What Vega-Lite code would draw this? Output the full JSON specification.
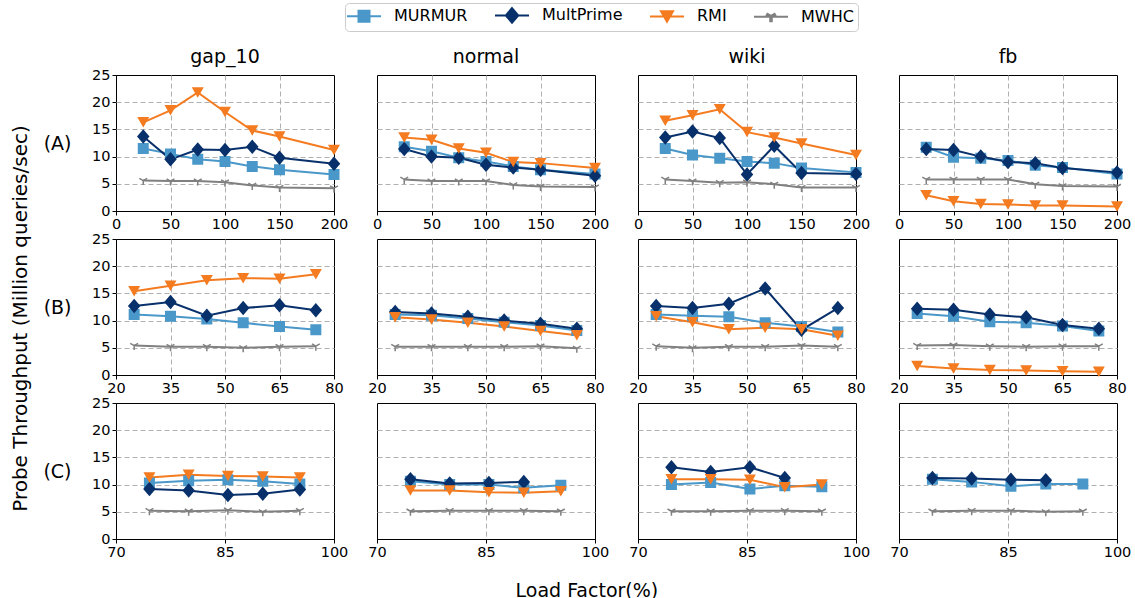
{
  "$schema": "https://vega.github.io/schema/vega-lite/v6.json",
  "padding": {"left": 10, "top": 2, "right": 5, "bottom": 5},
  "title": {"text": "Probe Throughput (Million queries/sec)", "orient": "left", "anchor": "middle", "fontSize": 20, "fontWeight": "normal", "font": "DejaVu Sans", "offset": 12, "dx": -17},
  "datasets": {
    "d": [
      {"r":"A","c":"gap_10","m":"MURMUR","x":25,"y":11.5},{"r":"A","c":"gap_10","m":"MURMUR","x":50,"y":10.5},{"r":"A","c":"gap_10","m":"MURMUR","x":75,"y":9.5},{"r":"A","c":"gap_10","m":"MURMUR","x":100,"y":9.1},{"r":"A","c":"gap_10","m":"MURMUR","x":125,"y":8.2},{"r":"A","c":"gap_10","m":"MURMUR","x":150,"y":7.6},{"r":"A","c":"gap_10","m":"MURMUR","x":200,"y":6.7},
      {"r":"A","c":"gap_10","m":"MultPrime","x":25,"y":13.7},{"r":"A","c":"gap_10","m":"MultPrime","x":50,"y":9.5},{"r":"A","c":"gap_10","m":"MultPrime","x":75,"y":11.3},{"r":"A","c":"gap_10","m":"MultPrime","x":100,"y":11.2},{"r":"A","c":"gap_10","m":"MultPrime","x":125,"y":11.8},{"r":"A","c":"gap_10","m":"MultPrime","x":150,"y":9.8},{"r":"A","c":"gap_10","m":"MultPrime","x":200,"y":8.7},
      {"r":"A","c":"gap_10","m":"RMI","x":25,"y":16.3},{"r":"A","c":"gap_10","m":"RMI","x":50,"y":18.5},{"r":"A","c":"gap_10","m":"RMI","x":75,"y":21.8},{"r":"A","c":"gap_10","m":"RMI","x":100,"y":18.2},{"r":"A","c":"gap_10","m":"RMI","x":125,"y":14.8},{"r":"A","c":"gap_10","m":"RMI","x":150,"y":13.7},{"r":"A","c":"gap_10","m":"RMI","x":200,"y":11.2},
      {"r":"A","c":"gap_10","m":"MWHC","x":25,"y":5.6},{"r":"A","c":"gap_10","m":"MWHC","x":50,"y":5.5},{"r":"A","c":"gap_10","m":"MWHC","x":75,"y":5.5},{"r":"A","c":"gap_10","m":"MWHC","x":100,"y":5.3},{"r":"A","c":"gap_10","m":"MWHC","x":125,"y":4.7},{"r":"A","c":"gap_10","m":"MWHC","x":150,"y":4.3},{"r":"A","c":"gap_10","m":"MWHC","x":200,"y":4.2},

      {"r":"A","c":"normal","m":"MURMUR","x":25,"y":11.8},{"r":"A","c":"normal","m":"MURMUR","x":50,"y":11.0},{"r":"A","c":"normal","m":"MURMUR","x":75,"y":9.8},{"r":"A","c":"normal","m":"MURMUR","x":100,"y":9.1},{"r":"A","c":"normal","m":"MURMUR","x":125,"y":8.2},{"r":"A","c":"normal","m":"MURMUR","x":150,"y":7.6},{"r":"A","c":"normal","m":"MURMUR","x":200,"y":6.8},
      {"r":"A","c":"normal","m":"MultPrime","x":25,"y":11.4},{"r":"A","c":"normal","m":"MultPrime","x":50,"y":10.0},{"r":"A","c":"normal","m":"MultPrime","x":75,"y":9.8},{"r":"A","c":"normal","m":"MultPrime","x":100,"y":8.5},{"r":"A","c":"normal","m":"MultPrime","x":125,"y":8.0},{"r":"A","c":"normal","m":"MultPrime","x":150,"y":7.6},{"r":"A","c":"normal","m":"MultPrime","x":200,"y":6.5},
      {"r":"A","c":"normal","m":"RMI","x":25,"y":13.5},{"r":"A","c":"normal","m":"RMI","x":50,"y":13.1},{"r":"A","c":"normal","m":"RMI","x":75,"y":11.5},{"r":"A","c":"normal","m":"RMI","x":100,"y":10.7},{"r":"A","c":"normal","m":"RMI","x":125,"y":9.0},{"r":"A","c":"normal","m":"RMI","x":150,"y":8.8},{"r":"A","c":"normal","m":"RMI","x":200,"y":7.9},
      {"r":"A","c":"normal","m":"MWHC","x":25,"y":5.8},{"r":"A","c":"normal","m":"MWHC","x":50,"y":5.5},{"r":"A","c":"normal","m":"MWHC","x":75,"y":5.5},{"r":"A","c":"normal","m":"MWHC","x":100,"y":5.5},{"r":"A","c":"normal","m":"MWHC","x":125,"y":4.8},{"r":"A","c":"normal","m":"MWHC","x":150,"y":4.5},{"r":"A","c":"normal","m":"MWHC","x":200,"y":4.4},

      {"r":"A","c":"wiki","m":"MURMUR","x":25,"y":11.5},{"r":"A","c":"wiki","m":"MURMUR","x":50,"y":10.3},{"r":"A","c":"wiki","m":"MURMUR","x":75,"y":9.7},{"r":"A","c":"wiki","m":"MURMUR","x":100,"y":9.1},{"r":"A","c":"wiki","m":"MURMUR","x":125,"y":8.8},{"r":"A","c":"wiki","m":"MURMUR","x":150,"y":7.9},{"r":"A","c":"wiki","m":"MURMUR","x":200,"y":7.1},
      {"r":"A","c":"wiki","m":"MultPrime","x":25,"y":13.5},{"r":"A","c":"wiki","m":"MultPrime","x":50,"y":14.6},{"r":"A","c":"wiki","m":"MultPrime","x":75,"y":13.4},{"r":"A","c":"wiki","m":"MultPrime","x":100,"y":6.7},{"r":"A","c":"wiki","m":"MultPrime","x":125,"y":12.0},{"r":"A","c":"wiki","m":"MultPrime","x":150,"y":7.0},{"r":"A","c":"wiki","m":"MultPrime","x":200,"y":6.8},
      {"r":"A","c":"wiki","m":"RMI","x":25,"y":16.6},{"r":"A","c":"wiki","m":"RMI","x":50,"y":17.6},{"r":"A","c":"wiki","m":"RMI","x":75,"y":18.7},{"r":"A","c":"wiki","m":"RMI","x":100,"y":14.5},{"r":"A","c":"wiki","m":"RMI","x":125,"y":13.5},{"r":"A","c":"wiki","m":"RMI","x":150,"y":12.4},{"r":"A","c":"wiki","m":"RMI","x":200,"y":10.3},
      {"r":"A","c":"wiki","m":"MWHC","x":25,"y":5.8},{"r":"A","c":"wiki","m":"MWHC","x":50,"y":5.5},{"r":"A","c":"wiki","m":"MWHC","x":75,"y":5.2},{"r":"A","c":"wiki","m":"MWHC","x":100,"y":5.3},{"r":"A","c":"wiki","m":"MWHC","x":125,"y":4.9},{"r":"A","c":"wiki","m":"MWHC","x":150,"y":4.3},{"r":"A","c":"wiki","m":"MWHC","x":200,"y":4.3},

      {"r":"A","c":"fb","m":"MURMUR","x":25,"y":11.7},{"r":"A","c":"fb","m":"MURMUR","x":50,"y":9.9},{"r":"A","c":"fb","m":"MURMUR","x":75,"y":9.7},{"r":"A","c":"fb","m":"MURMUR","x":100,"y":9.3},{"r":"A","c":"fb","m":"MURMUR","x":125,"y":8.4},{"r":"A","c":"fb","m":"MURMUR","x":150,"y":8.0},{"r":"A","c":"fb","m":"MURMUR","x":200,"y":6.8},
      {"r":"A","c":"fb","m":"MultPrime","x":25,"y":11.4},{"r":"A","c":"fb","m":"MultPrime","x":50,"y":11.2},{"r":"A","c":"fb","m":"MultPrime","x":75,"y":10.0},{"r":"A","c":"fb","m":"MultPrime","x":100,"y":9.0},{"r":"A","c":"fb","m":"MultPrime","x":125,"y":8.8},{"r":"A","c":"fb","m":"MultPrime","x":150,"y":7.9},{"r":"A","c":"fb","m":"MultPrime","x":200,"y":7.1},
      {"r":"A","c":"fb","m":"RMI","x":25,"y":2.9},{"r":"A","c":"fb","m":"RMI","x":50,"y":1.8},{"r":"A","c":"fb","m":"RMI","x":75,"y":1.3},{"r":"A","c":"fb","m":"RMI","x":100,"y":1.2},{"r":"A","c":"fb","m":"RMI","x":125,"y":1.0},{"r":"A","c":"fb","m":"RMI","x":150,"y":1.0},{"r":"A","c":"fb","m":"RMI","x":200,"y":0.85},
      {"r":"A","c":"fb","m":"MWHC","x":25,"y":5.8},{"r":"A","c":"fb","m":"MWHC","x":50,"y":5.8},{"r":"A","c":"fb","m":"MWHC","x":75,"y":5.8},{"r":"A","c":"fb","m":"MWHC","x":100,"y":5.8},{"r":"A","c":"fb","m":"MWHC","x":125,"y":4.9},{"r":"A","c":"fb","m":"MWHC","x":150,"y":4.6},{"r":"A","c":"fb","m":"MWHC","x":200,"y":4.5},

      {"r":"B","c":"gap_10","m":"MURMUR","x":25,"y":11.1},{"r":"B","c":"gap_10","m":"MURMUR","x":35,"y":10.8},{"r":"B","c":"gap_10","m":"MURMUR","x":45,"y":10.3},{"r":"B","c":"gap_10","m":"MURMUR","x":55,"y":9.6},{"r":"B","c":"gap_10","m":"MURMUR","x":65,"y":8.9},{"r":"B","c":"gap_10","m":"MURMUR","x":75,"y":8.3},
      {"r":"B","c":"gap_10","m":"MultPrime","x":25,"y":12.7},{"r":"B","c":"gap_10","m":"MultPrime","x":35,"y":13.4},{"r":"B","c":"gap_10","m":"MultPrime","x":45,"y":10.9},{"r":"B","c":"gap_10","m":"MultPrime","x":55,"y":12.3},{"r":"B","c":"gap_10","m":"MultPrime","x":65,"y":12.8},{"r":"B","c":"gap_10","m":"MultPrime","x":75,"y":11.9},
      {"r":"B","c":"gap_10","m":"RMI","x":25,"y":15.4},{"r":"B","c":"gap_10","m":"RMI","x":35,"y":16.4},{"r":"B","c":"gap_10","m":"RMI","x":45,"y":17.4},{"r":"B","c":"gap_10","m":"RMI","x":55,"y":17.8},{"r":"B","c":"gap_10","m":"RMI","x":65,"y":17.7},{"r":"B","c":"gap_10","m":"RMI","x":75,"y":18.5},
      {"r":"B","c":"gap_10","m":"MWHC","x":25,"y":5.4},{"r":"B","c":"gap_10","m":"MWHC","x":35,"y":5.2},{"r":"B","c":"gap_10","m":"MWHC","x":45,"y":5.2},{"r":"B","c":"gap_10","m":"MWHC","x":55,"y":5.0},{"r":"B","c":"gap_10","m":"MWHC","x":65,"y":5.2},{"r":"B","c":"gap_10","m":"MWHC","x":75,"y":5.3},

      {"r":"B","c":"normal","m":"MURMUR","x":25,"y":11.1},{"r":"B","c":"normal","m":"MURMUR","x":35,"y":11.0},{"r":"B","c":"normal","m":"MURMUR","x":45,"y":10.4},{"r":"B","c":"normal","m":"MURMUR","x":55,"y":9.7},{"r":"B","c":"normal","m":"MURMUR","x":65,"y":9.1},{"r":"B","c":"normal","m":"MURMUR","x":75,"y":8.2},
      {"r":"B","c":"normal","m":"MultPrime","x":25,"y":11.6},{"r":"B","c":"normal","m":"MultPrime","x":35,"y":11.3},{"r":"B","c":"normal","m":"MultPrime","x":45,"y":10.7},{"r":"B","c":"normal","m":"MultPrime","x":55,"y":10.0},{"r":"B","c":"normal","m":"MultPrime","x":65,"y":9.4},{"r":"B","c":"normal","m":"MultPrime","x":75,"y":8.5},
      {"r":"B","c":"normal","m":"RMI","x":25,"y":10.6},{"r":"B","c":"normal","m":"RMI","x":35,"y":10.2},{"r":"B","c":"normal","m":"RMI","x":45,"y":9.6},{"r":"B","c":"normal","m":"RMI","x":55,"y":8.9},{"r":"B","c":"normal","m":"RMI","x":65,"y":8.1},{"r":"B","c":"normal","m":"RMI","x":75,"y":7.3},
      {"r":"B","c":"normal","m":"MWHC","x":25,"y":5.2},{"r":"B","c":"normal","m":"MWHC","x":35,"y":5.2},{"r":"B","c":"normal","m":"MWHC","x":45,"y":5.2},{"r":"B","c":"normal","m":"MWHC","x":55,"y":5.2},{"r":"B","c":"normal","m":"MWHC","x":65,"y":5.3},{"r":"B","c":"normal","m":"MWHC","x":75,"y":4.9},

      {"r":"B","c":"wiki","m":"MURMUR","x":25,"y":11.1},{"r":"B","c":"wiki","m":"MURMUR","x":35,"y":10.9},{"r":"B","c":"wiki","m":"MURMUR","x":45,"y":10.7},{"r":"B","c":"wiki","m":"MURMUR","x":55,"y":9.6},{"r":"B","c":"wiki","m":"MURMUR","x":65,"y":8.9},{"r":"B","c":"wiki","m":"MURMUR","x":75,"y":7.9},
      {"r":"B","c":"wiki","m":"MultPrime","x":25,"y":12.7},{"r":"B","c":"wiki","m":"MultPrime","x":35,"y":12.3},{"r":"B","c":"wiki","m":"MultPrime","x":45,"y":13.1},{"r":"B","c":"wiki","m":"MultPrime","x":55,"y":15.9},{"r":"B","c":"wiki","m":"MultPrime","x":65,"y":8.3},{"r":"B","c":"wiki","m":"MultPrime","x":75,"y":12.3},
      {"r":"B","c":"wiki","m":"RMI","x":25,"y":10.8},{"r":"B","c":"wiki","m":"RMI","x":35,"y":9.7},{"r":"B","c":"wiki","m":"RMI","x":45,"y":8.4},{"r":"B","c":"wiki","m":"RMI","x":55,"y":8.7},{"r":"B","c":"wiki","m":"RMI","x":65,"y":8.4},{"r":"B","c":"wiki","m":"RMI","x":75,"y":7.2},
      {"r":"B","c":"wiki","m":"MWHC","x":25,"y":5.3},{"r":"B","c":"wiki","m":"MWHC","x":35,"y":5.0},{"r":"B","c":"wiki","m":"MWHC","x":45,"y":5.2},{"r":"B","c":"wiki","m":"MWHC","x":55,"y":5.2},{"r":"B","c":"wiki","m":"MWHC","x":65,"y":5.4},{"r":"B","c":"wiki","m":"MWHC","x":75,"y":5.2},

      {"r":"B","c":"fb","m":"MURMUR","x":25,"y":11.3},{"r":"B","c":"fb","m":"MURMUR","x":35,"y":10.8},{"r":"B","c":"fb","m":"MURMUR","x":45,"y":9.8},{"r":"B","c":"fb","m":"MURMUR","x":55,"y":9.6},{"r":"B","c":"fb","m":"MURMUR","x":65,"y":9.0},{"r":"B","c":"fb","m":"MURMUR","x":75,"y":8.1},
      {"r":"B","c":"fb","m":"MultPrime","x":25,"y":12.2},{"r":"B","c":"fb","m":"MultPrime","x":35,"y":12.0},{"r":"B","c":"fb","m":"MultPrime","x":45,"y":11.1},{"r":"B","c":"fb","m":"MultPrime","x":55,"y":10.6},{"r":"B","c":"fb","m":"MultPrime","x":65,"y":9.2},{"r":"B","c":"fb","m":"MultPrime","x":75,"y":8.5},
      {"r":"B","c":"fb","m":"RMI","x":25,"y":1.65},{"r":"B","c":"fb","m":"RMI","x":35,"y":1.2},{"r":"B","c":"fb","m":"RMI","x":45,"y":0.9},{"r":"B","c":"fb","m":"RMI","x":55,"y":0.85},{"r":"B","c":"fb","m":"RMI","x":65,"y":0.7},{"r":"B","c":"fb","m":"RMI","x":75,"y":0.6},
      {"r":"B","c":"fb","m":"MWHC","x":25,"y":5.4},{"r":"B","c":"fb","m":"MWHC","x":35,"y":5.5},{"r":"B","c":"fb","m":"MWHC","x":45,"y":5.3},{"r":"B","c":"fb","m":"MWHC","x":55,"y":5.2},{"r":"B","c":"fb","m":"MWHC","x":65,"y":5.3},{"r":"B","c":"fb","m":"MWHC","x":75,"y":5.3},

      {"r":"C","c":"gap_10","m":"MURMUR","x":74.6,"y":10.3},{"r":"C","c":"gap_10","m":"MURMUR","x":80,"y":10.7},{"r":"C","c":"gap_10","m":"MURMUR","x":85.4,"y":10.9},{"r":"C","c":"gap_10","m":"MURMUR","x":90.2,"y":10.6},{"r":"C","c":"gap_10","m":"MURMUR","x":95.3,"y":10.1},
      {"r":"C","c":"gap_10","m":"MultPrime","x":74.6,"y":9.2},{"r":"C","c":"gap_10","m":"MultPrime","x":80,"y":8.9},{"r":"C","c":"gap_10","m":"MultPrime","x":85.4,"y":8.1},{"r":"C","c":"gap_10","m":"MultPrime","x":90.2,"y":8.3},{"r":"C","c":"gap_10","m":"MultPrime","x":95.3,"y":9.1},
      {"r":"C","c":"gap_10","m":"RMI","x":74.6,"y":11.3},{"r":"C","c":"gap_10","m":"RMI","x":80,"y":11.8},{"r":"C","c":"gap_10","m":"RMI","x":85.4,"y":11.6},{"r":"C","c":"gap_10","m":"RMI","x":90.2,"y":11.5},{"r":"C","c":"gap_10","m":"RMI","x":95.3,"y":11.3},
      {"r":"C","c":"gap_10","m":"MWHC","x":74.6,"y":5.2},{"r":"C","c":"gap_10","m":"MWHC","x":80,"y":5.1},{"r":"C","c":"gap_10","m":"MWHC","x":85.4,"y":5.3},{"r":"C","c":"gap_10","m":"MWHC","x":90.2,"y":5.0},{"r":"C","c":"gap_10","m":"MWHC","x":95.3,"y":5.2},

      {"r":"C","c":"normal","m":"MURMUR","x":74.6,"y":10.6},{"r":"C","c":"normal","m":"MURMUR","x":80,"y":10.0},{"r":"C","c":"normal","m":"MURMUR","x":85.4,"y":10.0},{"r":"C","c":"normal","m":"MURMUR","x":90.2,"y":9.4},{"r":"C","c":"normal","m":"MURMUR","x":95.3,"y":9.9},
      {"r":"C","c":"normal","m":"MultPrime","x":74.6,"y":11.0},{"r":"C","c":"normal","m":"MultPrime","x":80,"y":10.2},{"r":"C","c":"normal","m":"MultPrime","x":85.4,"y":10.3},{"r":"C","c":"normal","m":"MultPrime","x":90.2,"y":10.5},
      {"r":"C","c":"normal","m":"RMI","x":74.6,"y":8.9},{"r":"C","c":"normal","m":"RMI","x":80,"y":8.9},{"r":"C","c":"normal","m":"RMI","x":85.4,"y":8.6},{"r":"C","c":"normal","m":"RMI","x":90.2,"y":8.5},{"r":"C","c":"normal","m":"RMI","x":95.3,"y":8.8},
      {"r":"C","c":"normal","m":"MWHC","x":74.6,"y":5.1},{"r":"C","c":"normal","m":"MWHC","x":80,"y":5.2},{"r":"C","c":"normal","m":"MWHC","x":85.4,"y":5.2},{"r":"C","c":"normal","m":"MWHC","x":90.2,"y":5.2},{"r":"C","c":"normal","m":"MWHC","x":95.3,"y":5.1},

      {"r":"C","c":"wiki","m":"MURMUR","x":74.6,"y":10.0},{"r":"C","c":"wiki","m":"MURMUR","x":80,"y":10.4},{"r":"C","c":"wiki","m":"MURMUR","x":85.4,"y":9.2},{"r":"C","c":"wiki","m":"MURMUR","x":90.2,"y":9.8},{"r":"C","c":"wiki","m":"MURMUR","x":95.3,"y":9.6},
      {"r":"C","c":"wiki","m":"MultPrime","x":74.6,"y":13.2},{"r":"C","c":"wiki","m":"MultPrime","x":80,"y":12.3},{"r":"C","c":"wiki","m":"MultPrime","x":85.4,"y":13.2},{"r":"C","c":"wiki","m":"MultPrime","x":90.2,"y":11.2},
      {"r":"C","c":"wiki","m":"RMI","x":74.6,"y":11.0},{"r":"C","c":"wiki","m":"RMI","x":80,"y":11.0},{"r":"C","c":"wiki","m":"RMI","x":85.4,"y":10.9},{"r":"C","c":"wiki","m":"RMI","x":90.2,"y":9.5},{"r":"C","c":"wiki","m":"RMI","x":95.3,"y":10.0},
      {"r":"C","c":"wiki","m":"MWHC","x":74.6,"y":5.1},{"r":"C","c":"wiki","m":"MWHC","x":80,"y":5.1},{"r":"C","c":"wiki","m":"MWHC","x":85.4,"y":5.2},{"r":"C","c":"wiki","m":"MWHC","x":90.2,"y":5.2},{"r":"C","c":"wiki","m":"MWHC","x":95.3,"y":5.1},

      {"r":"C","c":"fb","m":"MURMUR","x":74.6,"y":11.0},{"r":"C","c":"fb","m":"MURMUR","x":80,"y":10.5},{"r":"C","c":"fb","m":"MURMUR","x":85.4,"y":9.7},{"r":"C","c":"fb","m":"MURMUR","x":90.2,"y":10.1},{"r":"C","c":"fb","m":"MURMUR","x":95.3,"y":10.1},
      {"r":"C","c":"fb","m":"MultPrime","x":74.6,"y":11.2},{"r":"C","c":"fb","m":"MultPrime","x":80,"y":11.1},{"r":"C","c":"fb","m":"MultPrime","x":85.4,"y":10.9},{"r":"C","c":"fb","m":"MultPrime","x":90.2,"y":10.8},
      {"r":"C","c":"fb","m":"MWHC","x":74.6,"y":5.1},{"r":"C","c":"fb","m":"MWHC","x":80,"y":5.2},{"r":"C","c":"fb","m":"MWHC","x":85.4,"y":5.2},{"r":"C","c":"fb","m":"MWHC","x":90.2,"y":5.0},{"r":"C","c":"fb","m":"MWHC","x":95.3,"y":5.1}
    ]
  },
  "spacing": 0,
  "vconcat": [
    {
      "data": {"name": "d"},
      "transform": [{"filter": "datum.r === 'A'"}],
      "facet": {"column": {"field": "c", "type": "nominal", "sort": ["gap_10", "normal", "wiki", "fb"], "header": {"title": null, "labelFontSize": 19, "labelPadding": 8, "labelFont": "DejaVu Sans"}}},
      "spacing": {"column": 43},
      "bounds": "flush",
      "spec": {
        "width": 218, "height": 136,
        "encoding": {
          "x": {"field": "x", "type": "quantitative", "scale": {"domain": [0, 200], "nice": false, "zero": false}, "axis": {"values": [0, 50, 100, 150, 200], "title": null, "labelExpr": "datum.value === 0 ? '   0' : datum.label", "gridOpacity": {"condition": {"test": "datum.value === 0 || datum.value === 200", "value": 0}, "value": 1}}},
          "y": {"field": "y", "type": "quantitative", "scale": {"domain": [0, 25], "nice": false}, "axis": {"values": [0, 5, 10, 15, 20, 25], "title": "(A)", "titleAngle": 0, "titleAlign": "right", "titleBaseline": "middle", "titleX": -45, "titleY": 68, "titleFontSize": 19, "titleFontWeight": "normal", "gridOpacity": {"condition": {"test": "datum.value === 0 || datum.value === 25", "value": 0}, "value": 1}}},
          "color": {"field": "m", "type": "nominal", "scale": {"domain": ["MURMUR", "MultPrime", "RMI", "MWHC"], "range": ["#4a98c9", "#08306b", "#f47b20", "#808080"]}, "legend": {"title": null, "orient": "none", "legendX": 229, "legendY": -72, "direction": "horizontal", "columns": 4, "labelFontSize": 16, "symbolOffset": 7, "labelOffset": 22, "columnPadding": 23, "padding": 4, "strokeColor": "#cccccc", "fillColor": "white", "cornerRadius": 4, "symbolStrokeWidth": 2, "encode": {"symbols": {"update": {"stroke": {"scale": "color", "field": "value"}, "strokeWidth": {"value": 2}}}}}}
        },
        "layer": [
          {"mark": {"type": "line", "strokeWidth": 2}},
          {"mark": {"type": "point", "filled": true, "size": 100, "opacity": 1, "strokeWidth": 0}, "encoding": {"shape": {"field": "m", "type": "nominal", "scale": {"domain": ["MURMUR", "MultPrime", "RMI", "MWHC"], "range": ["M-1.1,-1.1H1.1V1.1H-1.1Z M-3.4,0H3.4", "M0,-1.45L1.25,0L0,1.45L-1.25,0Z M-3.4,0H3.4", "M-1.2,-1.05H1.2L0,1.05Z M-3.4,0H3.4", "M-0.15,0L-0.15,0.9L0.15,0.9L0.15,0Z M0.075,-0.13L-0.705,-0.58L-0.855,-0.32L-0.075,0.13Z M0.075,0.13L0.855,-0.32L0.705,-0.58L-0.075,-0.13Z M-3.4,0H3.4"]}, "legend": {"title": null}}}}
        ]
      }
    },
    {
      "data": {"name": "d"},
      "transform": [{"filter": "datum.r === 'B'"}],
      "facet": {"column": {"field": "c", "type": "nominal", "sort": ["gap_10", "normal", "wiki", "fb"], "header": {"title": null, "labels": false}}},
      "spacing": {"column": 43},
      "bounds": "flush",
      "spec": {
        "width": 218, "height": 136,
        "encoding": {
          "x": {"field": "x", "type": "quantitative", "scale": {"domain": [20, 80], "nice": false, "zero": false}, "axis": {"values": [20, 35, 50, 65, 80], "title": null, "gridOpacity": {"condition": {"test": "datum.value === 20 || datum.value === 80", "value": 0}, "value": 1}}},
          "y": {"field": "y", "type": "quantitative", "scale": {"domain": [0, 25], "nice": false}, "axis": {"values": [0, 5, 10, 15, 20, 25], "title": "(B)", "titleAngle": 0, "titleAlign": "right", "titleBaseline": "middle", "titleX": -45, "titleY": 68, "titleFontSize": 19, "titleFontWeight": "normal", "gridOpacity": {"condition": {"test": "datum.value === 0 || datum.value === 25", "value": 0}, "value": 1}}},
          "color": {"field": "m", "type": "nominal", "scale": {"domain": ["MURMUR", "MultPrime", "RMI", "MWHC"], "range": ["#4a98c9", "#08306b", "#f47b20", "#808080"]}}
        },
        "layer": [
          {"mark": {"type": "line", "strokeWidth": 2}},
          {"mark": {"type": "point", "filled": true, "size": 100, "opacity": 1, "strokeWidth": 0}, "encoding": {"shape": {"field": "m", "type": "nominal", "scale": {"domain": ["MURMUR", "MultPrime", "RMI", "MWHC"], "range": ["M-1.1,-1.1H1.1V1.1H-1.1Z M-3.4,0H3.4", "M0,-1.45L1.25,0L0,1.45L-1.25,0Z M-3.4,0H3.4", "M-1.2,-1.05H1.2L0,1.05Z M-3.4,0H3.4", "M-0.15,0L-0.15,0.9L0.15,0.9L0.15,0Z M0.075,-0.13L-0.705,-0.58L-0.855,-0.32L-0.075,0.13Z M0.075,0.13L0.855,-0.32L0.705,-0.58L-0.075,-0.13Z M-3.4,0H3.4"]}}}}
        ]
      }
    },
    {
      "data": {"name": "d"},
      "transform": [{"filter": "datum.r === 'C'"}],
      "title": {"text": "Load Factor(%)", "orient": "bottom", "anchor": "middle", "fontSize": 19, "fontWeight": "normal", "font": "DejaVu Sans", "offset": 23},
      "facet": {"column": {"field": "c", "type": "nominal", "sort": ["gap_10", "normal", "wiki", "fb"], "header": {"title": null, "labels": false}}},
      "spacing": {"column": 43},
      "bounds": "flush",
      "spec": {
        "width": 218, "height": 136,
        "encoding": {
          "x": {"field": "x", "type": "quantitative", "scale": {"domain": [70, 100], "nice": false, "zero": false}, "axis": {"values": [70, 85, 100], "title": null, "gridOpacity": {"condition": {"test": "datum.value === 70 || datum.value === 100", "value": 0}, "value": 1}}},
          "y": {"field": "y", "type": "quantitative", "scale": {"domain": [0, 25], "nice": false}, "axis": {"values": [0, 5, 10, 15, 20, 25], "title": "(C)", "titleAngle": 0, "titleAlign": "right", "titleBaseline": "middle", "titleX": -45, "titleY": 68, "titleFontSize": 19, "titleFontWeight": "normal", "gridOpacity": {"condition": {"test": "datum.value === 0 || datum.value === 25", "value": 0}, "value": 1}}},
          "color": {"field": "m", "type": "nominal", "scale": {"domain": ["MURMUR", "MultPrime", "RMI", "MWHC"], "range": ["#4a98c9", "#08306b", "#f47b20", "#808080"]}}
        },
        "layer": [
          {"mark": {"type": "line", "strokeWidth": 2}},
          {"mark": {"type": "point", "filled": true, "size": 100, "opacity": 1, "strokeWidth": 0}, "encoding": {"shape": {"field": "m", "type": "nominal", "scale": {"domain": ["MURMUR", "MultPrime", "RMI", "MWHC"], "range": ["M-1.1,-1.1H1.1V1.1H-1.1Z M-3.4,0H3.4", "M0,-1.45L1.25,0L0,1.45L-1.25,0Z M-3.4,0H3.4", "M-1.2,-1.05H1.2L0,1.05Z M-3.4,0H3.4", "M-0.15,0L-0.15,0.9L0.15,0.9L0.15,0Z M0.075,-0.13L-0.705,-0.58L-0.855,-0.32L-0.075,0.13Z M0.075,0.13L0.855,-0.32L0.705,-0.58L-0.075,-0.13Z M-3.4,0H3.4"]}}}}
        ]
      }
    }
  ],
  "config": {
    "font": "DejaVu Sans",
    "view": {"stroke": "black", "strokeWidth": 1},
    "axis": {"domainColor": "black", "tickColor": "black", "labelColor": "black", "labelFontSize": 14.5, "tickSize": 4, "labelPadding": 2, "labelFlush": false, "labelOverlap": false, "grid": true, "gridColor": "#b0b0b0", "gridDash": [5, 3], "gridWidth": 1, "titleColor": "black"},
    "header": {"labelColor": "black"},
    "legend": {"labelColor": "black"}
  }
}
